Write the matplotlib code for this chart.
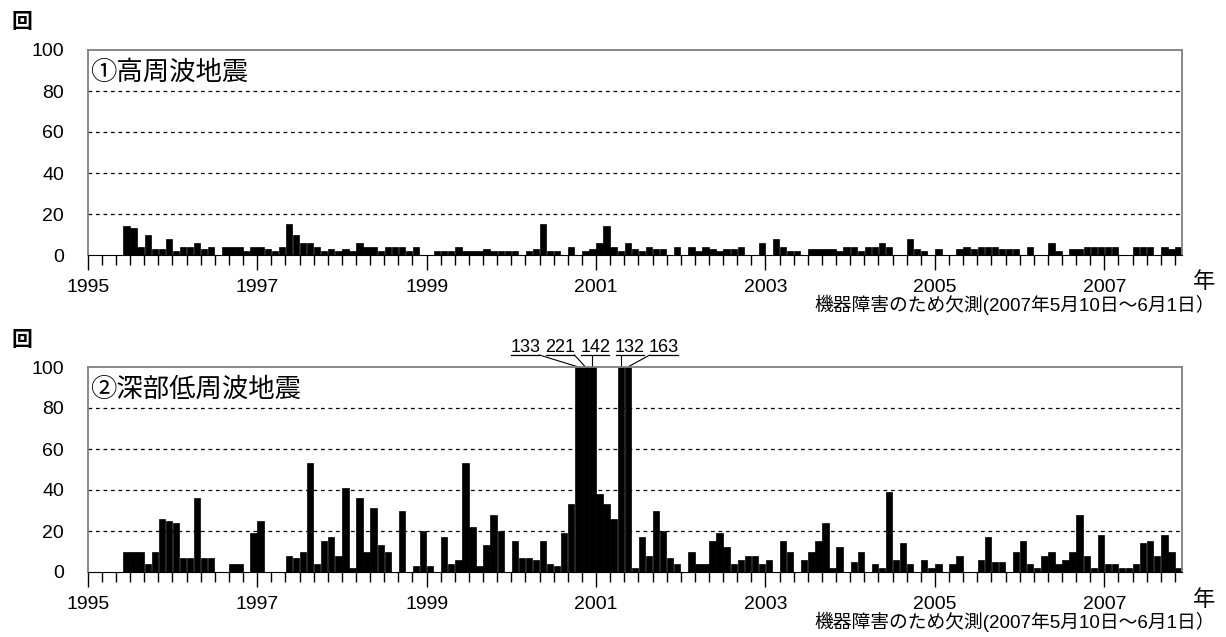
import numpy as np
import matplotlib
matplotlib.use('Agg')
import matplotlib.pyplot as plt
from matplotlib.ticker import MultipleLocator

plt.rcParams['font.family'] = ['Liberation Sans', 'Noto Sans CJK JP']

# monthly counts, Jan 1995 - Nov 2007
start_year = 1995

high_freq = [
    0, 0, 0, 0, 0, 14, 13, 4, 10, 3, 3, 8,        # 1995
    2, 4, 4, 6, 3, 4, 0, 4, 4, 4, 2, 4,           # 1996
    4, 3, 2, 4, 15, 10, 6, 6, 4, 2, 3, 2,         # 1997
    3, 2, 6, 4, 4, 2, 4, 4, 4, 2, 4, 0,           # 1998
    0, 2, 2, 2, 4, 2, 2, 2, 3, 2, 2, 2,           # 1999
    2, 0, 2, 3, 15, 2, 2, 0, 4, 0, 2, 3,          # 2000
    6, 14, 4, 2, 6, 3, 2, 4, 3, 3, 0, 4,          # 2001
    0, 4, 2, 4, 3, 2, 3, 3, 4, 0, 0, 6,           # 2002
    0, 8, 4, 2, 2, 0, 3, 3, 3, 3, 2, 4,           # 2003
    4, 2, 4, 4, 6, 4, 0, 0, 8, 3, 2, 0,           # 2004
    3, 0, 0, 3, 4, 3, 4, 4, 4, 3, 3, 3,           # 2005
    0, 4, 0, 0, 6, 2, 0, 3, 3, 4, 4, 4,           # 2006
    4, 4, 0, 0, 4, 4, 4, 0, 4, 3, 4,              # 2007
]

deep_low_freq = [
    0, 0, 0, 0, 0, 10, 10, 10, 4, 10, 26, 25,     # 1995
    24, 7, 7, 36, 7, 7, 0, 0, 4, 4, 0, 19,        # 1996
    25, 0, 0, 0, 8, 7, 10, 53, 4, 15, 17, 8,      # 1997
    41, 2, 36, 10, 31, 13, 10, 0, 30, 0, 3, 20,   # 1998
    3, 0, 17, 4, 6, 53, 22, 3, 13, 28, 20, 0,     # 1999
    15, 7, 7, 6, 15, 4, 3, 19, 33, 133, 221, 142, # 2000
    38, 33, 26, 132, 163, 2, 17, 8, 30, 20, 7, 4, # 2001
    0, 10, 4, 4, 15, 19, 12, 4, 6, 8, 8, 4,       # 2002
    6, 0, 15, 10, 0, 6, 10, 15, 24, 2, 12, 0,     # 2003
    5, 10, 0, 4, 2, 39, 6, 14, 4, 0, 6, 2,        # 2004
    4, 0, 4, 8, 0, 0, 6, 17, 5, 5, 0, 10,         # 2005
    15, 4, 2, 8, 10, 4, 6, 10, 28, 8, 2, 18,      # 2006
    4, 4, 2, 2, 4, 14, 15, 8, 18, 10, 2,          # 2007
]

panel_titles = ['①高周波地震', '②深部低周波地震']
year_ticks = [1995, 1997, 1999, 2001, 2003, 2005, 2007]
y_ticks = [0, 20, 40, 60, 80, 100]
note = '機器障害のため欠測(2007年5月10日～6月1日）'

# label offsets (pixels) for bars above 100, relative to bar centre
over_dx = [-53, -25, 3, 9, 36]

W, H = 1226, 637
fig = plt.figure(figsize=(W / 100, H / 100), dpi=100)

x_mid = start_year + (np.arange(len(high_freq)) + 0.5) / 12
x_end = start_year + len(high_freq) / 12
px_per_year = (1182 - 87.7) / (x_end - start_year)


def make_axes(top):
    return fig.add_axes([87.7 / W, 1 - (top + 205) / H, (1182 - 87.7) / W, 205 / H])


for k, (data, title) in enumerate(zip([high_freq, deep_low_freq], panel_titles)):
    off = 317 * k
    ax = make_axes(50 + off)
    ax.bar(x_mid, data, width=0.9 / 12, color='black', edgecolor='black', linewidth=0.5)
    ax.set_xlim(start_year, x_end)
    ax.set_ylim(0, 100)
    for v in y_ticks[1:-1]:
        ax.axhline(v, color='black', lw=0.9, ls=(0, (3, 3)), zorder=0)
    ax.set_yticks(y_ticks)
    ax.tick_params(axis='y', length=0, pad=17, labelsize=14)
    ax.set_xticks(year_ticks)
    ax.set_xticklabels([str(y) for y in year_ticks])
    ax.xaxis.set_minor_locator(MultipleLocator(1 / 6))
    ax.tick_params(axis='x', which='major', length=11, width=1, pad=6, labelsize=14)
    ax.tick_params(axis='x', which='minor', length=7, width=1)
    for s in ['top', 'left', 'right']:
        ax.spines[s].set_color('#808080')
        ax.spines[s].set_linewidth(1.3)
    ax.spines['bottom'].set_color('black')

    ax.text(0.002, 0.89, title, transform=ax.transAxes, fontsize=19,
            ha='left', va='center')
    fig.text(22 / W, 1 - (23 + off) / H, '回', fontsize=15, ha='center', va='center',
             fontweight='bold')
    fig.text(1204 / W, 1 - (283 + off) / H, '年', fontsize=16, ha='center', va='center')
    fig.text(1215 / W, 1 - (305 + off) / H, note, fontsize=13.5, ha='right', va='center')

    if k == 1:
        big = [(x, v) for x, v in zip(x_mid, data) if v > 100]
        half = 14 / px_per_year
        for (x, v), dx in zip(big, over_dx):
            lx = x + dx / px_per_year
            ly = 100 + 20 / 2.05
            uy = 100 + 12 / 2.05
            ax.text(lx, ly, str(v), fontsize=13, ha='center', va='center', clip_on=False)
            ax.plot([lx - half, lx + half], [uy, uy], color='black', lw=0.9, clip_on=False)
            ax_x = min(max(x, lx - half), lx + half)
            ax.plot([ax_x, x], [uy, 100], color='black', lw=0.8, clip_on=False)

fig.savefig('out.png', dpi=100)
